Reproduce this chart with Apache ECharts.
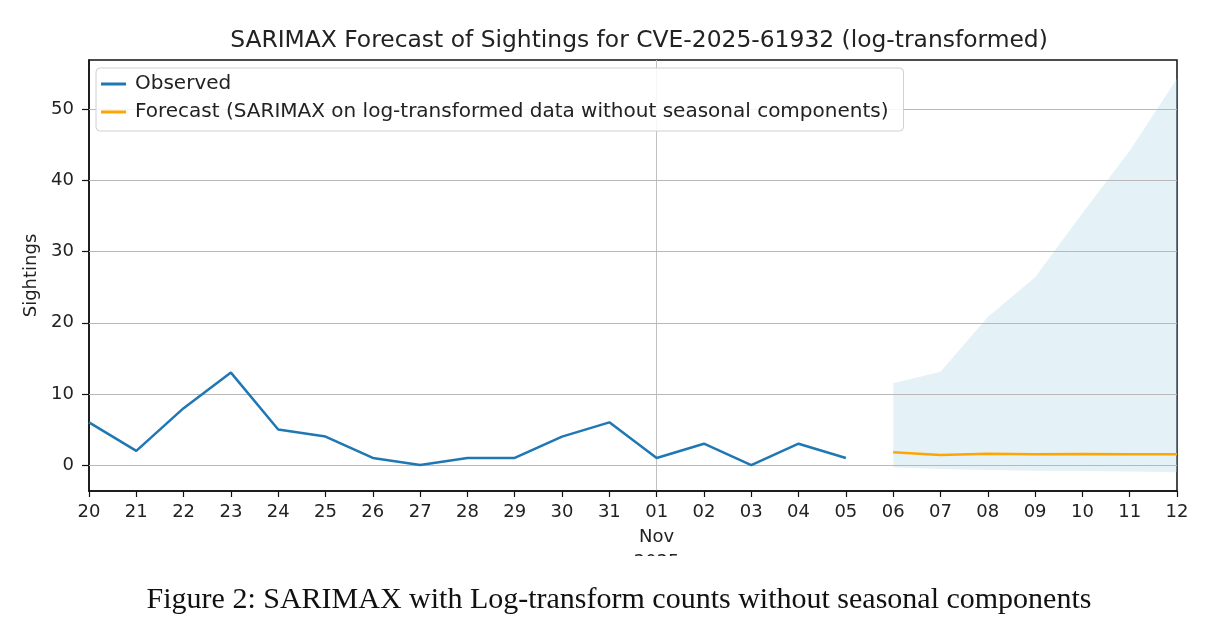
<!DOCTYPE html>
<html>
<head>
<meta charset="utf-8">
<script src="https://cdn.jsdelivr.net/npm/echarts@6/dist/echarts.min.js"></script>
<style>
  html, body { margin: 0; padding: 0; background: #fff; }
  #chart { width: 1205px; height: 630px; }
</style>
</head>
<body>
<div id="chart"></div>
<script>
(function () {
    // days from 2025-10-20 to 2025-11-12
    const dates = [
        '2025-10-20', '2025-10-21', '2025-10-22', '2025-10-23', '2025-10-24', '2025-10-25',
        '2025-10-26', '2025-10-27', '2025-10-28', '2025-10-29', '2025-10-30', '2025-10-31',
        '2025-11-01', '2025-11-02', '2025-11-03', '2025-11-04', '2025-11-05', '2025-11-06',
        '2025-11-07', '2025-11-08', '2025-11-09', '2025-11-10', '2025-11-11', '2025-11-12'
    ];
    const observed = [6, 2, 8, 13, 5, 4, 1, 0, 1, 1, 4, 6, 1, 3, 0, 3, 1];
    const forecast = [1.8, 1.4, 1.6, 1.5, 1.55, 1.5, 1.5];
    const ciLower = [-0.3, -0.55, -0.7, -0.8, -0.85, -0.9, -1.0];
    const ciUpper = [11.5, 13.1, 20.8, 26.4, 35.4, 44.2, 54.3];
    const yTicks = [0, 10, 20, 30, 40, 50];

    const pad = new Array(observed.length).fill(null);
    const forecastData = pad.concat(forecast);
    const lowerData = pad.concat(ciLower);
    const bandData = pad.concat(ciUpper.map((u, i) => u - ciLower[i]));

    const font = 'DejaVu Sans';
    let myChart = echarts.init(document.getElementById('chart'));

    let option = {
        animation: false,
        backgroundColor: '#fff',
        title: [
            {
                text: 'SARIMAX Forecast of Sightings for CVE-2025-61932 (log-transformed)',
                left: 634,
                top: 24,
                textAlign: 'center',
                textStyle: { fontFamily: font, fontSize: 23.4, fontWeight: 'normal', color: '#222' }
            },
            {
                text: 'Figure 2: SARIMAX with Log-transform counts without seasonal components',
                left: 614,
                top: 580,
                textAlign: 'center',
                textStyle: { fontFamily: 'Liberation Serif', fontSize: 30, fontWeight: 'normal', color: '#111' }
            }
        ],
        legend: {
            orient: 'vertical',
            left: 96,
            top: 68,
            z: 10,
            padding: [6, 15, 9, 5],
            itemGap: 8,
            itemWidth: 25,
            itemHeight: 3,
            icon: 'rect',
            backgroundColor: 'rgba(255,255,255,0.85)',
            borderColor: '#d0d0d0',
            borderWidth: 1,
            borderRadius: 4,
            textStyle: { fontFamily: font, fontSize: 20, color: '#222', padding: [0, 0, 0, 4] },
            data: [
                'Observed',
                'Forecast (SARIMAX on log-transformed data without seasonal components)'
            ]
        },
        grid: {
            left: 89, right: 28, top: 60, bottom: 139,
            show: true, borderColor: '#111', borderWidth: 1.5
        },
        xAxis: {
            type: 'category',
            data: dates,
            boundaryGap: false,
            axisLine: { onZero: false, lineStyle: { color: '#111', width: 1.5 } },
            axisTick: { alignWithLabel: true, length: 6, lineStyle: { color: '#111', width: 1.2 } },
            axisLabel: {
                interval: 0,
                margin: 9,
                fontFamily: font,
                fontSize: 18,
                color: '#222',
                lineHeight: 25,
                formatter: function (v) {
                    const d = v.slice(8);
                    return d === '01' ? d + '\nNov\n2025' : d;
                }
            },
            splitLine: {
                show: true,
                interval: function (index) { return index === 12; },
                lineStyle: { color: '#c0c0c0', width: 1 }
            }
        },
        yAxis: {
            type: 'value',
            min: -3.65,
            max: 56.95,
            name: 'Sightings',
            nameLocation: 'middle',
            nameGap: 46,
            nameTextStyle: { fontFamily: font, fontSize: 18, color: '#222' },
            axisLine: { show: true, lineStyle: { color: '#111', width: 1.5 } },
            axisTick: { show: true, length: 7, customValues: yTicks, lineStyle: { color: '#111', width: 1.2 } },
            axisLabel: { customValues: yTicks, margin: 15, fontFamily: font, fontSize: 18, color: '#222' },
            splitLine: { show: false }
        },
        series: [
            {
                name: 'Observed',
                type: 'line',
                data: observed,
                symbol: 'none',
                color: '#1f77b4',
                lineStyle: { width: 2.5 },
                z: 5,
                markLine: {
                    silent: true,
                    symbol: 'none',
                    label: { show: false },
                    lineStyle: { color: '#b8b8b8', width: 1, type: 'solid' },
                    data: yTicks.map(v => ({ yAxis: v }))
                }
            },
            {
                name: 'ci-lower',
                type: 'line',
                data: lowerData,
                stack: 'ci',
                stackStrategy: 'all',
                symbol: 'none',
                lineStyle: { opacity: 0 },
                z: 2
            },
            {
                name: 'ci-band',
                type: 'line',
                data: bandData,
                stack: 'ci',
                stackStrategy: 'all',
                symbol: 'none',
                lineStyle: { opacity: 0 },
                areaStyle: { color: 'rgba(173,216,230,0.33)', opacity: 1 },
                z: 2
            },
            {
                name: 'Forecast (SARIMAX on log-transformed data without seasonal components)',
                type: 'line',
                data: forecastData,
                symbol: 'none',
                color: '#ffa500',
                lineStyle: { width: 2.5 },
                z: 6
            }
        ],
        graphic: [
            {
                // the figure was cropped through the year label
                type: 'rect',
                left: 560,
                top: 556,
                shape: { width: 160, height: 22 },
                style: { fill: '#fff' },
                z: 100
            }
        ]
    };

    myChart && myChart.setOption(option);
}());
</script>
</body>
</html>
